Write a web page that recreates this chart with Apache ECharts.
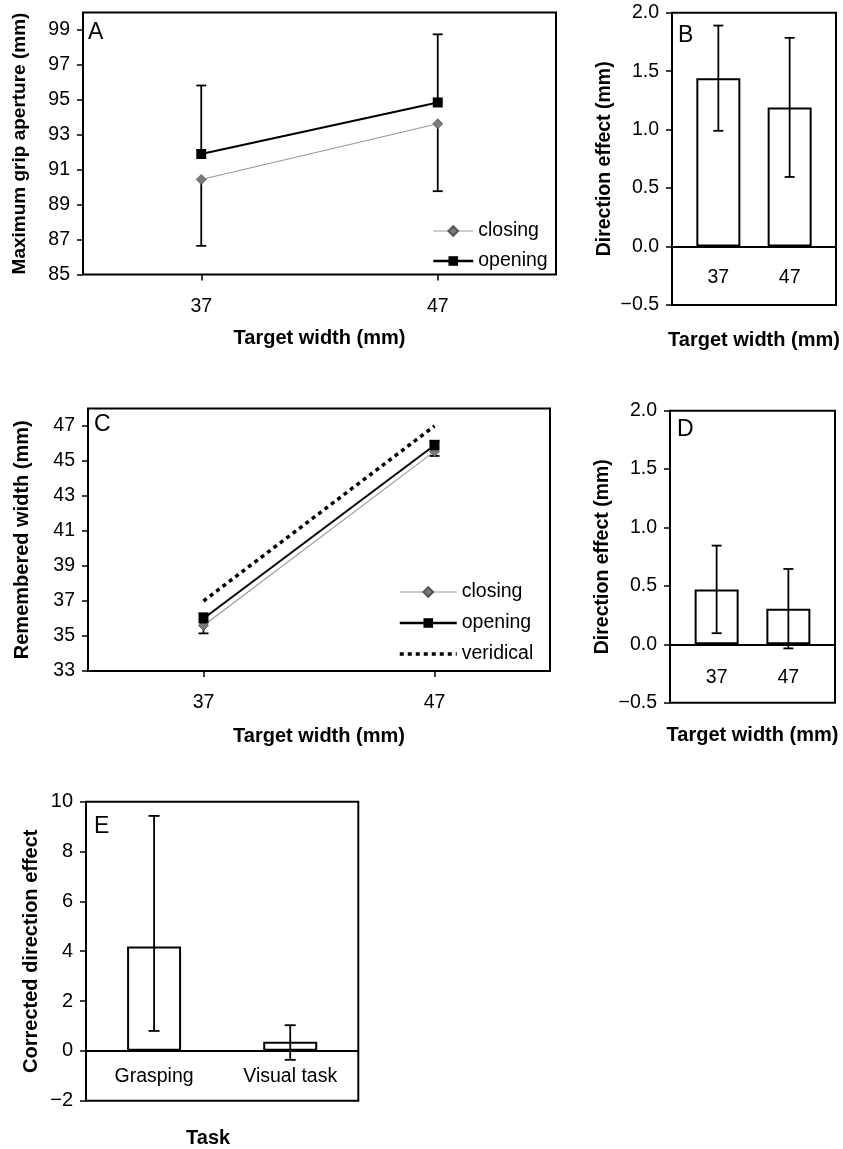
<!DOCTYPE html>
<html><head><meta charset="utf-8">
<script src="https://cdn.jsdelivr.net/npm/echarts@6/dist/echarts.min.js"></script>
<style>html,body{margin:0;padding:0;background:#fff}#c{width:843px;height:1149px}</style>
</head><body><div id="c"></div>
<script>
// ---- data ----
const widthCats = ['37', '47'];
const aClosing = [90.44, 93.63];
const aClosingErr = [3.8, 3.86];
const aOpening = [91.9, 94.85];
const aOpeningErr = [3.92, 3.9];
const bEffect = [1.44, 1.19];
const bErr = [0.45, 0.595];
const cClosing = [35.6, 45.55];
const cClosingErr = [0.45, 0.26];
const cOpening = [36.0, 45.9];
const cOpeningErr = [0.3, 0.26];
const cVeridical = [37, 47];
const dEffect = [0.47, 0.305];
const dErr = [0.375, 0.34];
const taskCats = ['Grasping', 'Visual task'];
const eEffect = [4.19, 0.37];
const eErrLow = [0.8, -0.36];
const eErrHigh = [9.43, 1.03];
const aTicks = [85, 87, 89, 91, 93, 95, 97, 99];
const effTicks = [-0.5, 0, 0.5, 1.0, 1.5, 2.0];
const cTicks = [33, 35, 37, 39, 41, 43, 45, 47];
const eTicks = [-2, 0, 2, 4, 6, 8, 10];
const barPos = [1, 2];
const zeroLine = [0];

const FONT = '"Liberation Sans", Arial, Helvetica, sans-serif';
const chart = echarts.init(document.getElementById('c'), null, {renderer: 'canvas'});

function minus(s) { return String(s).replace('-', '\u2212'); }

function errRender(capHalf, capLo, capHi) {
  return function (params, api) {
    const x = api.value(0), lo = api.value(1), hi = api.value(2);
    const p1 = api.coord([x, lo]), p2 = api.coord([x, hi]);
    const style = {stroke: '#000', lineWidth: 1.8};
    const ch = [{type: 'line', shape: {x1: p1[0], y1: p1[1], x2: p2[0], y2: p2[1]}, style}];
    if (capLo) ch.push({type: 'line', shape: {x1: p1[0] - capHalf, y1: p1[1], x2: p1[0] + capHalf, y2: p1[1]}, style});
    if (capHi) ch.push({type: 'line', shape: {x1: p2[0] - capHalf, y1: p2[1], x2: p2[0] + capHalf, y2: p2[1]}, style});
    return {type: 'group', children: ch};
  };
}

const gridBase = {show: true, borderColor: '#000', borderWidth: 2, backgroundColor: 'transparent', containLabel: false, outerBoundsMode: 'none'};
const grids = [
  Object.assign({left: 83, top: 12.5, width: 473, height: 262}, gridBase),
  Object.assign({left: 672, top: 12.7, width: 164, height: 292.3}, gridBase),
  Object.assign({left: 88, top: 408.5, width: 462, height: 262.5}, gridBase),
  Object.assign({left: 670, top: 410.7, width: 165, height: 292}, gridBase),
  Object.assign({left: 86, top: 801.7, width: 272.3, height: 299}, gridBase)
];

const TICK_FS = 19.5;
const lbl = {color: '#000', fontSize: TICK_FS, fontFamily: FONT};
const nameStyle = {color: '#000', fontSize: 20, fontWeight: 'bold', fontFamily: FONT};

function yAxis(gi, min, max, ticks, name, gap, fmt, fs, nfs) {
  return {
    type: 'value', gridIndex: gi, min, max, name, nameLocation: 'middle', nameGap: gap,
    nameTextStyle: Object.assign({}, nameStyle, {fontSize: nfs || 20}),
    axisLine: {show: false}, splitLine: {show: false},
    axisTick: {show: true, length: 6, inside: false, lineStyle: {color: '#000', width: 1.5}, customValues: ticks},
    axisLabel: Object.assign({}, lbl, {fontSize: fs || TICK_FS, margin: 13, customValues: ticks, formatter: fmt || (v => minus(v))})
  };
}

const xAxes = [
  {type: 'category', gridIndex: 0, data: widthCats, boundaryGap: true,
   name: 'Target width (mm)', nameLocation: 'middle', nameGap: 54, nameTextStyle: nameStyle,
   axisLine: {show: false, onZero: false}, axisTick: {show: true, alignWithLabel: true, length: 6, lineStyle: {color: '#000', width: 1.5}},
   axisLabel: Object.assign({}, lbl, {margin: 22}), splitLine: {show: false}},
  {type: 'value', gridIndex: 1, min: 0.35, max: 2.65,
   name: 'Target width (mm)', nameLocation: 'middle', nameGap: 25, nameTextStyle: nameStyle,
   axisLine: {show: false, onZero: false}, axisTick: {show: false},
   axisLabel: Object.assign({}, lbl, {inside: true, margin: 17, customValues: barPos, formatter: v => widthCats[Math.round(v) - 1]}), splitLine: {show: false}},
  {type: 'category', gridIndex: 2, data: widthCats, boundaryGap: true,
   name: 'Target width (mm)', nameLocation: 'middle', nameGap: 55, nameTextStyle: nameStyle,
   axisLine: {show: false, onZero: false}, axisTick: {show: true, alignWithLabel: true, length: 6, lineStyle: {color: '#000', width: 1.5}},
   axisLabel: Object.assign({}, lbl, {margin: 22}), splitLine: {show: false}},
  {type: 'value', gridIndex: 3, min: 0.35, max: 2.65,
   name: 'Target width (mm)', nameLocation: 'middle', nameGap: 23, nameTextStyle: nameStyle,
   axisLine: {show: false, onZero: false}, axisTick: {show: false},
   axisLabel: Object.assign({}, lbl, {inside: true, margin: 15, customValues: barPos, formatter: v => widthCats[Math.round(v) - 1]}), splitLine: {show: false}},
  {type: 'category', gridIndex: 4, data: taskCats, boundaryGap: true,
   name: 'Task', nameLocation: 'middle', nameGap: 28, nameTextStyle: Object.assign({}, nameStyle, {padding: [0, 28, 0, 0]}),
   axisLine: {show: false, onZero: false}, axisTick: {show: false},
   axisLabel: Object.assign({}, lbl, {inside: true, margin: 14}), splitLine: {show: false}}
];

const yAxes = [
  yAxis(0, 85, 100, aTicks, 'Maximum grip aperture (mm)', 54, null, null, 19),
  yAxis(1, -0.5, 2.0, effTicks, 'Direction effect (mm)', 57, v => minus(v.toFixed(1)), null, 19.5),
  yAxis(2, 33, 48, cTicks, 'Remembered width (mm)', 56),
  yAxis(3, -0.5, 2.0, effTicks, 'Direction effect (mm)', 57, v => minus(v.toFixed(1)), null, 19.5),
  yAxis(4, -2, 10, eTicks, 'Corrected direction effect', 45, v => minus(v), 20)
];

const zeroMark = {
  silent: true, symbol: 'none', label: {show: false},
  lineStyle: {color: '#000', width: 2, type: 'solid'},
  data: zeroLine.map(v => ({yAxis: v}))
};

const closingStyle = {
  type: 'line', symbol: 'diamond', symbolSize: 10,
  lineStyle: {color: '#9a9a9a', width: 1.2}, itemStyle: {color: '#7a7a7a', borderColor: '#555', borderWidth: 0.8}, z: 3
};
const openingStyle = {
  type: 'line', symbol: 'rect', symbolSize: 10,
  lineStyle: {color: '#000', width: 2.2}, itemStyle: {color: '#000'}, z: 4
};
const barStyle = {color: '#fff', borderColor: '#000', borderWidth: 2};

const series = [
  // Panel A
  Object.assign({}, closingStyle, {name: 'closing', xAxisIndex: 0, yAxisIndex: 0, data: aClosing}),
  Object.assign({}, openingStyle, {name: 'opening', xAxisIndex: 0, yAxisIndex: 0, data: aOpening}),
  {type: 'custom', xAxisIndex: 0, yAxisIndex: 0, z: 2, renderItem: errRender(5, false, true),
   data: aOpening.map((v, i) => [i, v, v + aOpeningErr[i]])},
  {type: 'custom', xAxisIndex: 0, yAxisIndex: 0, z: 2, renderItem: errRender(5, true, false),
   data: aClosing.map((v, i) => [i, v - aClosingErr[i], v])},
  // Panel B
  {type: 'bar', xAxisIndex: 1, yAxisIndex: 1, barWidth: 44, z: 2, itemStyle: barStyle,
   data: bEffect.map((v, i) => [barPos[i], v]), markLine: zeroMark},
  {type: 'custom', xAxisIndex: 1, yAxisIndex: 1, z: 5, renderItem: errRender(5, true, true),
   data: bEffect.map((v, i) => [barPos[i], v - bErr[i], v + bErr[i]])},
  // Panel C
  {type: 'line', name: 'veridical', xAxisIndex: 2, yAxisIndex: 2, data: cVeridical, symbol: 'none', z: 2,
   itemStyle: {color: '#000'}, lineStyle: {color: '#000', width: 3.5, type: [4, 4]}},
  Object.assign({}, closingStyle, {name: 'closing', xAxisIndex: 2, yAxisIndex: 2, data: cClosing}),
  Object.assign({}, openingStyle, {name: 'opening', xAxisIndex: 2, yAxisIndex: 2, data: cOpening, lineStyle: {color: '#000', width: 2}}),
  {type: 'custom', xAxisIndex: 2, yAxisIndex: 2, z: 2, renderItem: errRender(5, false, true),
   data: cOpening.map((v, i) => [i, v, v + cOpeningErr[i]])},
  {type: 'custom', xAxisIndex: 2, yAxisIndex: 2, z: 2, renderItem: errRender(5, true, false),
   data: cClosing.map((v, i) => [i, v - cClosingErr[i], v])},
  // Panel D
  {type: 'bar', xAxisIndex: 3, yAxisIndex: 3, barWidth: 44, z: 2, itemStyle: barStyle,
   data: dEffect.map((v, i) => [barPos[i], v]), markLine: zeroMark},
  {type: 'custom', xAxisIndex: 3, yAxisIndex: 3, z: 5, renderItem: errRender(5, true, true),
   data: dEffect.map((v, i) => [barPos[i], v - dErr[i], v + dErr[i]])},
  // Panel E
  {type: 'bar', xAxisIndex: 4, yAxisIndex: 4, barWidth: 54, z: 2, itemStyle: barStyle,
   data: eEffect, markLine: zeroMark},
  {type: 'custom', xAxisIndex: 4, yAxisIndex: 4, z: 5, renderItem: errRender(5.5, true, true),
   data: eEffect.map((v, i) => [i, eErrLow[i], eErrHigh[i]])}
];

const panelTitle = (t, left, top) => ({text: t, left, top, padding: 0,
  textStyle: {fontSize: 23, fontWeight: 'normal', color: '#000', fontFamily: FONT}});

const legendText = {fontSize: TICK_FS, color: '#000', lineHeight: 20, fontFamily: FONT};

chart.setOption({
  animation: false,
  backgroundColor: '#fff',
  textStyle: {fontFamily: FONT, color: '#000'},
  title: [panelTitle('A', 88, 21), panelTitle('B', 678, 24), panelTitle('C', 94, 413), panelTitle('D', 677, 418), panelTitle('E', 94, 815)],
  legend: [
    {data: [
       {name: 'closing', lineStyle: {color: '#9a9a9a', width: 1.2}},
       {name: 'opening', lineStyle: {color: '#000', width: 2.5}}],
     orient: 'vertical', left: 432, top: 221, padding: 0,
     itemWidth: 40, itemHeight: 12, itemGap: 10, selectedMode: false, textStyle: legendText},
    {data: [
       {name: 'closing', lineStyle: {color: '#9a9a9a', width: 1.2}},
       {name: 'opening', lineStyle: {color: '#000', width: 2.5}},
       {name: 'veridical', itemStyle: {color: 'rgba(0,0,0,0)', borderWidth: 0, opacity: 0}, lineStyle: {color: '#000', width: 3.5, type: [4, 4]}}],
     orient: 'vertical', left: 398, top: 582, padding: 0,
     itemWidth: 57, itemHeight: 12, itemGap: 11, selectedMode: false, textStyle: legendText}
  ],
  grid: grids,
  xAxis: xAxes,
  yAxis: yAxes,
  series
});
</script>
</body></html>
